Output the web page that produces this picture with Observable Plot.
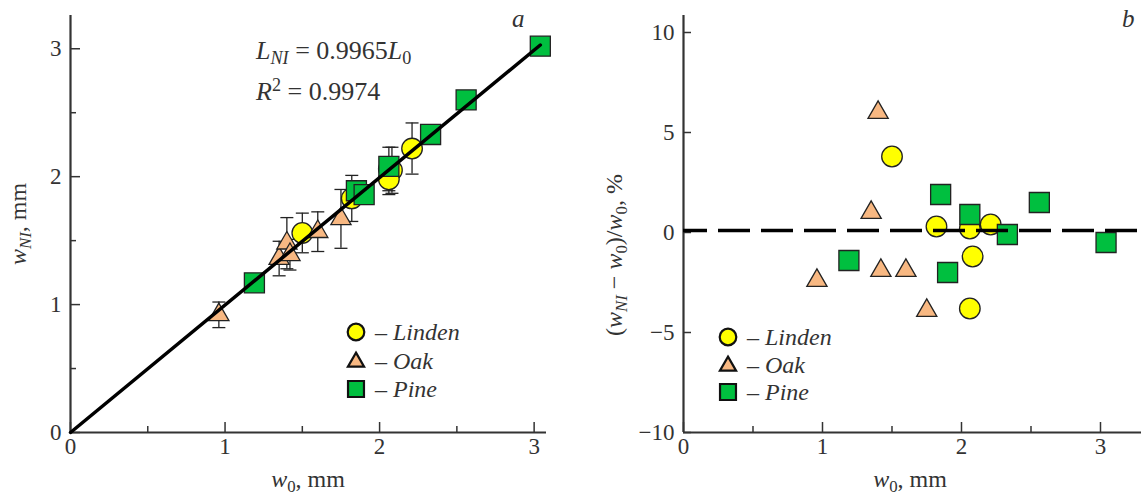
<!DOCTYPE html>
<html><head><meta charset="utf-8">
<script src="https://cdn.jsdelivr.net/npm/d3@7"></script>
<script src="https://cdn.jsdelivr.net/npm/@observablehq/plot@0.6"></script>
<style>
body{margin:0;background:#fff;}
#wrap{position:relative;width:1141px;height:499px;overflow:hidden;background:#fff;}
#pa{position:absolute;left:0;top:0}
#pb{position:absolute;left:570px;top:0}
svg text{font-family:"Liberation Serif","DejaVu Serif","Tinos","Times New Roman",serif !important;}
</style></head><body><div id="wrap"><div id="pa"></div><div id="pb"></div></div>
<script>
// ---- data ----
const species = ["Linden", "Oak", "Pine"];
const lindenW0  = [1.50, 1.82, 2.06, 2.21, 2.08, 2.06];
const lindenWNI = [1.56, 1.83, 2.06, 2.22, 2.05, 1.98];
const lindenErr = [0.155, 0.18, 0.17, 0.20, 0.18, 0.12];
const lindenDev = [3.8, 0.3, 0.2, 0.4, -1.2, -3.8];
const oakW0  = [0.96, 1.35, 1.40, 1.42, 1.60, 1.75];
const oakWNI = [0.92, 1.36, 1.48, 1.39, 1.57, 1.67];
const oakErr = [0.10, 0.135, 0.20, 0.12, 0.155, 0.23];
const oakDev = [-2.4, 1.0, 6.0, -1.9, -1.9, -3.9];
const pineW0  = [1.19, 1.85, 1.90, 2.06, 2.33, 2.56, 3.04];
const pineWNI = [1.17, 1.89, 1.86, 2.08, 2.33, 2.60, 3.02];
const pineDev = [-1.4, 1.9, -2.0, 0.9, -0.1, 1.5, -0.5];
const fitSlope = 0.9965;
const fitR2 = 0.9974;
const fitX = [0, 3.04];
const refLevel = [0.1];
const xTicksA = [0, 1, 2, 3];
const xMinorA = [0.5, 1.5, 2.5];
const yTicksA = [0, 1, 2, 3];
const yMinorA = [0.5, 1.5, 2.5];
const xTicksB = [0, 1, 2, 3];
const xMinorB = [0.5, 1.5, 2.5];
const yTicksB = [-10, -5, 0, 5, 10];

// ---- styles ----
const FONT = '"Liberation Serif", "DejaVu Serif", Tinos, "Times New Roman", serif';
const INK = "#333";
const colors = {Linden: "#ffff00", Oak: "#f8b882", Pine: "#00bf3f"};
const symbols = {Linden: "circle", Oak: "triangle", Pine: "square"};
const radii = {Linden: 10.3, Oak: 7.5, Pine: 11.3};
const fmt = d => d < 0 ? "\u2212" + Math.abs(d) : String(d);

const linden = lindenW0.map((w, i) => ({w0: w, wni: lindenWNI[i], err: lindenErr[i], dev: lindenDev[i]}));
const oak = oakW0.map((w, i) => ({w0: w, wni: oakWNI[i], err: oakErr[i], dev: oakDev[i]}));
const pine = pineW0.map((w, i) => ({w0: w, wni: pineWNI[i], dev: pineDev[i]}));
const bars = [...linden, ...oak].map(d => ({w0: d.w0, lo: d.wni - d.err, hi: d.wni + d.err}));
const groups = {Linden: linden, Oak: oak, Pine: pine};

const capSymbol = {draw(ctx) { ctx.moveTo(-6.5, 0); ctx.lineTo(6.5, 0); }};

function dots(key, yField) {
  return Plot.dot(groups[key], {x: "w0", y: yField, symbol: symbols[key], r: radii[key],
    fill: colors[key], stroke: "#222", strokeWidth: 1.3});
}

// ---------- panel a ----------
const A = {w: 570, h: 499, ml: 70, mr: 24, mt: 15, mb: 67};
const fhA = A.h - A.mt - A.mb, fwA = A.w - A.ml - A.mr;
const plotA = Plot.plot({
  width: A.w, height: A.h, marginLeft: A.ml, marginRight: A.mr, marginTop: A.mt, marginBottom: A.mb,
  x: {domain: [0, 3.08]}, y: {domain: [0, 3.26]},
  style: {fontFamily: FONT, color: INK, background: "white", overflow: "visible"},
  marks: [
    Plot.ruleX(xTicksA, {stroke: INK, strokeWidth: 1.5, insetTop: fhA - 10}),
    Plot.ruleX(xMinorA, {stroke: INK, strokeWidth: 1.5, insetTop: fhA - 6}),
    Plot.ruleY(yTicksA, {stroke: INK, strokeWidth: 1.5, insetRight: fwA - 10}),
    Plot.ruleY(yMinorA, {stroke: INK, strokeWidth: 1.5, insetRight: fwA - 6}),
    Plot.ruleX([0], {stroke: INK, strokeWidth: 2.2}),
    Plot.ruleY([0], {stroke: INK, strokeWidth: 2.2}),
    Plot.axisX(xTicksA, {tickSize: 0, tickPadding: 5, label: null, fontSize: 23, fill: INK, tickFormat: fmt, fontFamily: FONT}),
    Plot.axisY(yTicksA, {tickSize: 0, tickPadding: 9, label: null, fontSize: 23, fill: INK, tickFormat: fmt, fontFamily: FONT}),
    Plot.ruleX(bars, {x: "w0", y1: "lo", y2: "hi", stroke: "#222", strokeWidth: 1.3}),
    Plot.dot(bars, {x: "w0", y: "lo", symbol: capSymbol, r: 5, fill: "none", stroke: "#222", strokeWidth: 1.3}),
    Plot.dot(bars, {x: "w0", y: "hi", symbol: capSymbol, r: 5, fill: "none", stroke: "#222", strokeWidth: 1.3}),
    dots("Linden", "wni"),
    dots("Oak", "wni"),
    dots("Pine", "wni"),
    Plot.line(fitX, {x: d => d, y: d => fitSlope * d, stroke: "#000", strokeWidth: 3.5})
  ]
});
document.getElementById("pa").appendChild(plotA);

// ---------- panel b ----------
const B = {w: 571, h: 499, ml: 113, mr: 0, mt: 15, mb: 67};
const fhB = B.h - B.mt - B.mb, fwB = B.w - B.ml - B.mr;
const plotB = Plot.plot({
  width: B.w, height: B.h, marginLeft: B.ml, marginRight: B.mr, marginTop: B.mt, marginBottom: B.mb,
  x: {domain: [0, 3.295]}, y: {domain: [-10, 10.85]},
  style: {fontFamily: FONT, color: INK, background: "white", overflow: "visible"},
  marks: [
    Plot.ruleX(xTicksB, {stroke: INK, strokeWidth: 1.5, insetTop: fhB - 10}),
    Plot.ruleX(xMinorB, {stroke: INK, strokeWidth: 1.5, insetTop: fhB - 6}),
    Plot.ruleY(yTicksB, {stroke: INK, strokeWidth: 1.5, insetRight: fwB - 8}),
    Plot.ruleX([0], {stroke: INK, strokeWidth: 2.2}),
    Plot.ruleY([-10], {stroke: INK, strokeWidth: 2.2}),
    Plot.axisX(xTicksB, {tickSize: 0, tickPadding: 5, label: null, fontSize: 23, fill: INK, tickFormat: fmt, fontFamily: FONT}),
    Plot.axisY(yTicksB, {tickSize: 0, tickPadding: 9, label: null, fontSize: 23, fill: INK, tickFormat: fmt, fontFamily: FONT}),
    dots("Linden", "dev"),
    dots("Oak", "dev"),
    dots("Pine", "dev"),
    Plot.ruleY(refLevel, {stroke: "#000", strokeWidth: 3.5, strokeDasharray: "32,11", strokeDashoffset: 8})
  ]
});
document.getElementById("pb").appendChild(plotB);

// ---------- rich text (titles, annotations, legends) ----------
function rich(svg, x, y, parts, opts = {}) {
  const size = opts.size || 24;
  const t = d3.select(svg).append("text")
    .attr("x", x).attr("y", y)
    .attr("font-size", size)
    .attr("fill", opts.fill || INK)
    .attr("text-anchor", opts.anchor || "start");
  if (opts.rotate) t.attr("transform", `rotate(${opts.rotate},${x},${y})`);
  let shift = 0;
  for (const p of parts) {
    const s = t.append("tspan").text(p.t);
    if (p.i) s.attr("font-style", "italic");
    let target = p.sub ? 5 : p.sup ? -9 : 0;
    if (p.sub || p.sup) s.attr("font-size", size * 0.7);
    if (target !== shift) { s.attr("dy", target - shift); shift = target; }
  }
  return t;
}

// axis titles
rich(plotA, 26, 224, [{t: "w", i: 1}, {t: "NI", i: 1, sub: 1}, {t: ", mm"}], {anchor: "middle", rotate: -90});
rich(plotA, 308, 487, [{t: "w", i: 1}, {t: "0", sub: 1}, {t: ", mm"}], {anchor: "middle"});
rich(plotB, 52, 255, [{t: "("}, {t: "w", i: 1}, {t: "NI", i: 1, sub: 1}, {t: " \u2212 "}, {t: "w", i: 1}, {t: "0", sub: 1},
  {t: ")/"}, {t: "w", i: 1}, {t: "0", sub: 1}, {t: ", %"}], {anchor: "middle", rotate: -90});
rich(plotB, 340, 487, [{t: "w", i: 1}, {t: "0", sub: 1}, {t: ", mm"}], {anchor: "middle"});

// fit annotation
rich(plotA, 256, 59, [{t: "L", i: 1}, {t: "NI", i: 1, sub: 1}, {t: " = " + fitSlope}, {t: "L", i: 1}, {t: "0", sub: 1}], {size: 26});
rich(plotA, 256, 100, [{t: "R", i: 1}, {t: "2", sup: 1}, {t: " = " + fitR2}], {size: 26});

// panel letters
rich(plotA, 512, 27, [{t: "a", i: 1}], {size: 25});
rich(plotB, 552, 27, [{t: "b", i: 1}], {size: 25});

// legends
function legend(svg, x, y0, step) {
  const legSize = {Linden: 8.3 * 8.3 * Math.PI, Oak: 6 * 6 * Math.PI, Pine: 9 * 9 * Math.PI};
  const typ = {Linden: d3.symbolCircle, Oak: d3.symbolTriangle, Pine: d3.symbolSquare};
  species.forEach((s, i) => {
    const y = y0 + i * step;
    d3.select(svg).append("path")
      .attr("d", d3.symbol(typ[s], legSize[s])())
      .attr("transform", `translate(${x},${y + (s === "Oak" ? 1.5 : 0)})`)
      .attr("fill", colors[s]).attr("stroke", "#111").attr("stroke-width", 2.2);
    rich(svg, x + 19, y + 8, [{t: "\u2013 "}, {t: s, i: 1}], {size: 24});
  });
}
legend(plotA, 356, 332, 28.5);
legend(plotB, 158, 337, 27.5);
</script></body></html>
